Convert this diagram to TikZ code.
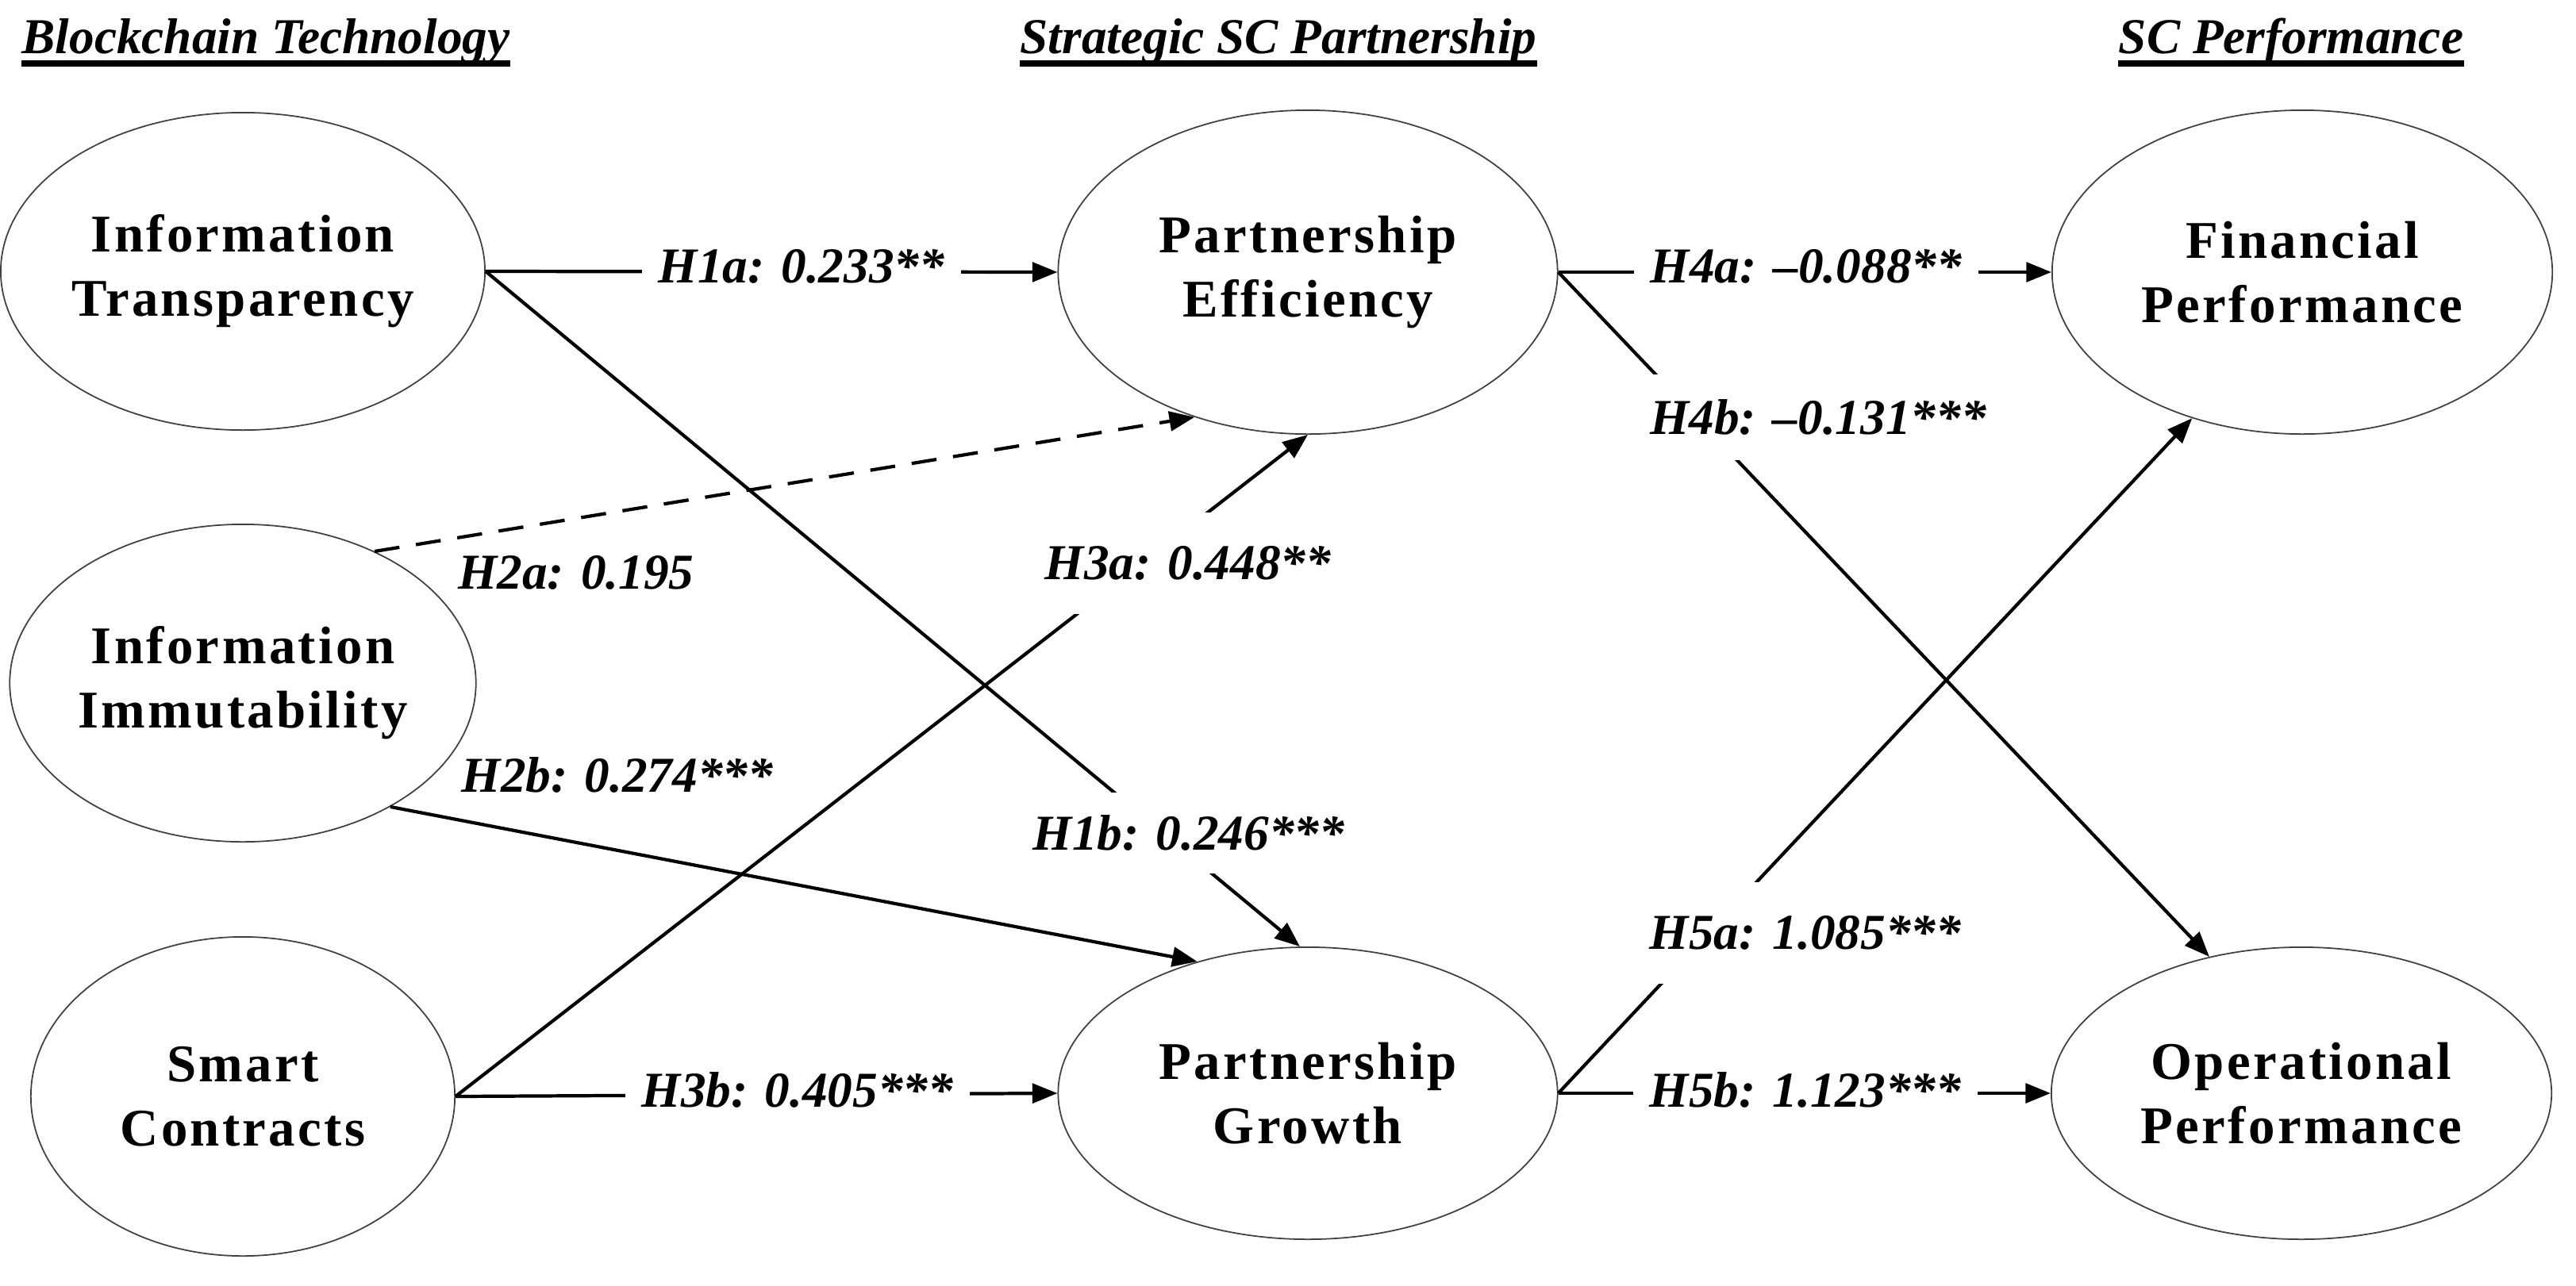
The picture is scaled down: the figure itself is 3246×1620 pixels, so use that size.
\documentclass[tikz,border=0pt]{standalone}
\usepackage{fontspec}
\setmainfont{Liberation Serif}
\usetikzlibrary{shapes.geometric,arrows.meta}
\begin{document}
\begin{tikzpicture}[x=0.01cm,y=-0.01cm,
  construct/.style={ellipse,draw=black!75,line width=0.5pt,inner sep=0pt,font=\fontsize{19}{23}\selectfont\bfseries\addfontfeature{LetterSpace=5},align=center},
  path/.style={line width=1.2pt,-{Triangle[length=9pt,width=7pt]}},
  lbl/.style={fill=white,inner sep=6pt,font=\fontsize{18}{21}\selectfont\bfseries\itshape},
  freelbl/.style={inner sep=0pt,font=\fontsize{18}{21}\selectfont\bfseries\itshape},
  ttl/.style={inner sep=0pt,anchor=base,font=\fontsize{18}{21}\selectfont\bfseries\itshape},
  uline/.style={line width=2.4pt}]
\useasboundingbox (0,0) rectangle (3246,1620);
\node[ttl] (t1) at (335,67) {Blockchain Technology};
\node[ttl] (t2) at (1611,67) {Strategic SC Partnership};
\node[ttl] (t3) at (2887,67) {SC Performance};
\draw[uline] ([yshift=-0.13cm]t1.base west) -- ([yshift=-0.13cm]t1.base east);
\draw[uline] ([yshift=-0.13cm]t2.base west) -- ([yshift=-0.13cm]t2.base east);
\draw[uline] ([yshift=-0.13cm]t3.base west) -- ([yshift=-0.13cm]t3.base east);
\node[construct,minimum width=5.34cm,minimum height=4cm] (it) at (306,342) {Information\\Transparency};
\node[construct,minimum width=5.34cm,minimum height=4cm] (ii) at (306,861) {Information\\Immutability};
\node[construct,minimum width=5.34cm,minimum height=4.02cm] (sc) at (306,1382) {Smart\\Contracts};
\node[construct,minimum width=6.29cm,minimum height=4.08cm] (pe) at (1648,343) {Partnership\\Efficiency};
\node[construct,minimum width=6.29cm,minimum height=3.68cm] (pg) at (1648,1378) {Partnership\\Growth};
\node[construct,minimum width=6.3cm,minimum height=4.08cm] (fp) at (2901,343) {Financial\\Performance};
\node[construct,minimum width=6.3cm,minimum height=3.68cm] (op) at (2900,1378) {Operational\\Performance};
% connectors
\draw[path] (it.east) -- (pe.west);
\draw[path] (it.east) -- ([xshift=-0.1cm]pg.north);
\draw[path,dashed,dash pattern=on 9pt off 6pt] (ii.45) -- (pe.232);
\draw[path] (ii.-40) -- (pg.130);
\draw[path] (sc.east) -- (pe.south);
\draw[path] (sc.east) -- (pg.west);
\draw[path] (pe.east) -- (fp.west);
\draw[path] (pe.east) -- (op.124);
\draw[path] (pg.east) -- (fp.233);
\draw[path] (pg.east) -- (op.west);
% labels
\node[lbl] (l1a) at (1010,336) {H1a: 0.233**};
\node[lbl,inner sep=8pt] (l1b) at (1498,1050) {H1b: 0.246***};
\node[freelbl] (l2a) at (726,722) {H2a: 0.195};
\node[freelbl] (l2b) at (778,977) {H2b: 0.274***};
\node[lbl,inner sep=12pt] (l3a) at (1497,710) {H3a: 0.448**};
\node[lbl] (l3b) at (1005,1374) {H3b: 0.405***};
\node[lbl] (l4a) at (2276,336) {H4a: \textendash0.088**};
\node[lbl,inner sep=9pt] (l4b) at (2291,526) {H4b: \textendash0.131***};
\node[lbl,inner sep=12pt] (l5a) at (2275,1176) {H5a: 1.085***};
\node[lbl] (l5b) at (2275,1374) {H5b: 1.123***};
\end{tikzpicture}
\end{document}
